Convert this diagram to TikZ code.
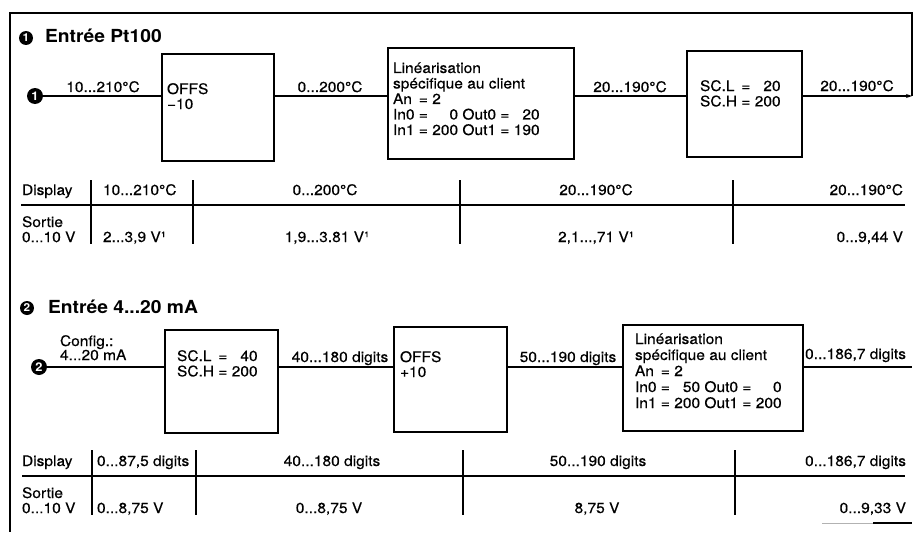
\documentclass[tikz,border=0pt]{standalone}
\usepackage{fontspec}
\setmainfont{TeX Gyre Heros}[FakeStretch=1.07, UprightFeatures={FakeBold=0.35}]
\usetikzlibrary{arrows.meta}
\begin{document}
\begin{tikzpicture}[x=1pt,y=-1pt,
  ln/.style={line width=1.1pt},
  box/.style={draw, line width=1.1pt, inner sep=0pt, outer sep=0pt},
  lbl/.style={inner sep=0pt, outer sep=0pt, font=\fontsize{14.5}{15}\selectfont},
  ttl/.style={inner sep=0pt, outer sep=0pt, font=\fontsize{18}{20}\selectfont\bfseries},
  num/.style={circle, fill=black, inner sep=0pt, minimum size=16pt, text=white, font=\fontsize{12}{12}\selectfont\bfseries},
  tnum/.style={num, minimum size=14pt, font=\fontsize{11}{11}\selectfont\bfseries},
]
\fill[white] (0,0) rectangle (915,535);
\useasboundingbox (0,0) rectangle (915,535);

% ---------- Section 1 ----------
\node[tnum] (t1c) at (26,38) {1};
\node[ttl, anchor=base west] (t1) at (45,43) {Entrée Pt100};
\coordinate (s1) at (0,96);
\node[num] (in1) at (35,96) {1};
\node[box, minimum width=112pt, minimum height=107pt] (offs1) at (218,107.5) {};
\node[box, minimum width=186pt, minimum height=111pt] (lin1) at (481,103.5) {};
\node[box, minimum width=115pt, minimum height=106pt] (sc1) at (744.5,104) {};
\coordinate (o1) at (912,96);

\node[lbl, anchor=base west] (offs1t) at (167,94) {\begin{tabular}[t]{@{}l@{}}OFFS\\−10\end{tabular}};
\node[lbl, font=\fontsize{14.5}{15.5}\selectfont, anchor=base west] (lin1t) at (393,73) {\begin{tabular}[t]{@{}l@{\ =\ }r@{\ }l@{\ =\ }r@{}}
\multicolumn{4}{@{}l@{}}{Linéarisation}\\
\multicolumn{4}{@{}l@{}}{spécifique au client}\\
An & \multicolumn{3}{@{}l@{}}{2}\\
In0 & 0 & Out0 & 20\\
In1 & 200 & Out1 & 190
\end{tabular}};
\node[lbl, anchor=base west] (sc1t) at (700,91) {\begin{tabular}[t]{@{}l@{\ =\ }r@{}}SC.L & 20\\ SC.H & 200\end{tabular}};

\node[lbl, anchor=base] (l1a) at (103,92) {10...210°C};
\node[lbl, anchor=base] (l1b) at (330,92) {0...200°C};
\node[lbl, anchor=base] (l1c) at (630,92) {20...190°C};
\node[lbl, anchor=base] (l1d) at (857,91) {20...190°C};

\draw[ln] (in1) -- (offs1.west |- s1);
\draw[ln] (offs1.east |- s1) -- (lin1.west |- s1);
\draw[ln] (lin1.east |- s1) -- (sc1.west |- s1);
\draw[ln, -{Stealth[length=6pt,width=4pt]}] (sc1.east |- s1) -- (o1);
\draw[ln] (o1) -- (912,13) -- (10,13) -- (10,532);

% table 1
\draw[ln] (21,205) -- (905,205);
\foreach \x in {91,193,460,733} \draw[ln] (\x,180) -- (\x,244);
\node[lbl, anchor=base west] (d1) at (22,195) {Display};
\node[lbl, anchor=base west] (d1a) at (103,195) {10...210°C};
\node[lbl, anchor=base] (d1b) at (325,195) {0...200°C};
\node[lbl, anchor=base] (d1c) at (596,195) {20...190°C};
\node[lbl, anchor=base east] (d1d) at (903,195) {20...190°C};
\node[lbl, anchor=base west] (so1) at (22,227) {\begin{tabular}[t]{@{}l@{}}Sortie\\0...10 V\end{tabular}};
\node[lbl, anchor=base west] (v1a) at (103,242) {2...3,9 V¹};
\node[lbl, anchor=base] (v1b) at (327,242) {1,9...3.81 V¹};
\node[lbl, anchor=base] (v1c) at (596,242) {2,1...,71 V¹};
\node[lbl, anchor=base east] (v1d) at (903,242) {0...9,44 V};

% ---------- Section 2 ----------
\node[tnum] (t2c) at (27,308) {2};
\node[ttl, anchor=base west] (t2) at (48,313) {Entrée 4...20 mA};
\coordinate (s2) at (0,367);
\node[num] (in2) at (39,367) {2};
\node[lbl, anchor=base west] (cfg) at (60,346) {\begin{tabular}[t]{@{}l@{}}Config.:\\[-1pt]4...20 mA\end{tabular}};
\node[box, minimum width=113pt, minimum height=103pt] (sc2) at (221.5,381.5) {};
\node[box, minimum width=113pt, minimum height=105pt] (offs2) at (450.5,379.5) {};
\node[box, minimum width=180pt, minimum height=106pt] (lin2) at (713,378) {};
\coordinate (o2) at (912,367);

\node[lbl, anchor=base west] (sc2t) at (177,361) {\begin{tabular}[t]{@{}l@{\ =\ }r@{}}SC.L & 40\\ SC.H & 200\end{tabular}};
\node[lbl, anchor=base west] (offs2t) at (400,362) {\begin{tabular}[t]{@{}l@{}}OFFS\\+10\end{tabular}};
\node[lbl, font=\fontsize{14.5}{16}\selectfont, anchor=base west] (lin2t) at (635,344) {\begin{tabular}[t]{@{}l@{\ =\ }r@{\ }l@{\ =\ }r@{}}
\multicolumn{4}{@{}l@{}}{Linéarisation}\\
\multicolumn{4}{@{}l@{}}{spécifique au client}\\
An & \multicolumn{3}{@{}l@{}}{2}\\
In0 & 50 & Out0 & 0\\
In1 & 200 & Out1 & 200
\end{tabular}};

\node[lbl, anchor=base] (l2b) at (340,362) {40...180 digits};
\node[lbl, anchor=base] (l2c) at (568,362) {50...190 digits};
\node[lbl, anchor=base east] (l2d) at (906,359) {0...186,7 digits};

\draw[ln] (in2) -- (sc2.west |- s2);
\draw[ln] (sc2.east |- s2) -- (offs2.west |- s2);
\draw[ln] (offs2.east |- s2) -- (lin2.west |- s2);
\draw[ln] (lin2.east |- s2) -- (o2);

% table 2
\draw[ln] (22,476) -- (905,476);
\foreach \x in {92,196,463,735} \draw[ln] (\x,450) -- (\x,515);
\node[lbl, anchor=base west] (d2) at (22,466) {Display};
\node[lbl, anchor=base west] (d2a) at (97,466) {0...87,5 digits};
\node[lbl, anchor=base] (d2b) at (332,466) {40...180 digits};
\node[lbl, anchor=base] (d2c) at (598,466) {50...190 digits};
\node[lbl, anchor=base east] (d2d) at (906,466) {0...186,7 digits};
\node[lbl, anchor=base west] (so2) at (22,498) {\begin{tabular}[t]{@{}l@{}}Sortie\\0...10 V\end{tabular}};
\node[lbl, anchor=base west] (v2a) at (97,513) {0...8,75 V};
\node[lbl, anchor=base] (v2b) at (329,513) {0...8,75 V};
\node[lbl, anchor=base] (v2c) at (597,513) {8,75 V};
\node[lbl, anchor=base east] (v2d) at (906,513) {0...9,33 V};

\draw[line width=1pt, black!30] (822,523) -- (873,523);
\draw[ln] (873,523) -- (912,523);
\end{tikzpicture}
\end{document}
